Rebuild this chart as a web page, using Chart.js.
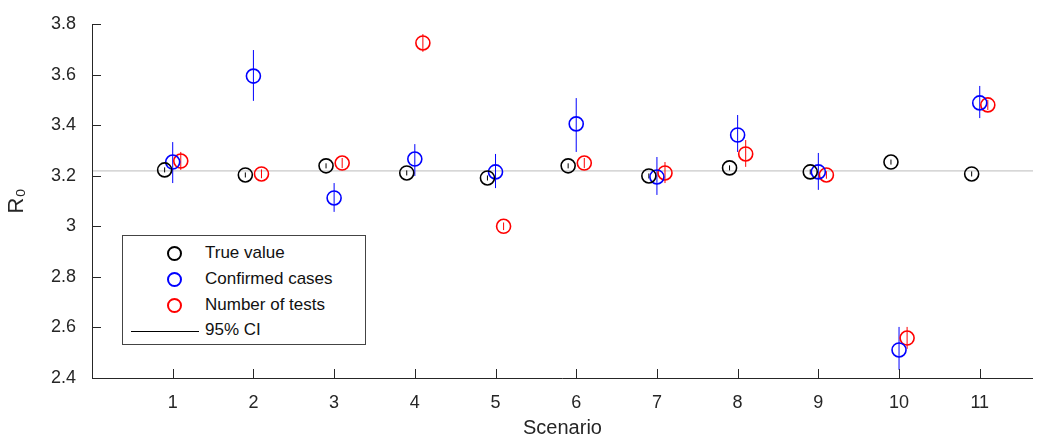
<!DOCTYPE html>
<html>
<head>
<meta charset="utf-8">
<script src="https://cdn.jsdelivr.net/npm/chart.js@4/dist/chart.umd.min.js"></script>
<style>
  body { margin: 0; background: #fff; }
  #wrap { position: relative; width: 1047px; height: 444px; }
  #legend { position: absolute; left: 122px; top: 235px; width: 244px; height: 110px;
    border: 1px solid #444; background: #fff; font: 17px "Liberation Sans", Arial, sans-serif; box-sizing: border-box; color: #111; }
  #legend div { position: absolute; left: 82px; }
  .mk { position: absolute; width: 11px; height: 11px; border-radius: 50%; border: 2px solid; left: 44px; }
</style>
</head>
<body>
<div id="wrap">
  <canvas id="c" width="1047" height="444"></canvas>
  <div id="legend">
    <span class="mk" style="top:10px;border-color:#000"></span><div style="top:7px">True value</div>
    <span class="mk" style="top:36px;border-color:#00f"></span><div style="top:33px">Confirmed cases</div>
    <span class="mk" style="top:62px;border-color:#f00"></span><div style="top:59px">Number of tests</div>
    <span style="position:absolute;left:8px;top:95px;width:68px;border-top:1px solid #000"></span><div style="top:84px">95% CI</div>
  </div>
</div>
<script>
const scenarios = [1, 2, 3, 4, 5, 6, 7, 8, 9, 10, 11];
const trueVal   = [3.223, 3.203, 3.239, 3.211, 3.191, 3.239, 3.199, 3.231, 3.215, 3.254, 3.207];
const trueLo    = [3.213, 3.193, 3.229, 3.201, 3.181, 3.229, 3.189, 3.221, 3.205, 3.244, 3.197];
const trueHi    = [3.233, 3.213, 3.249, 3.221, 3.201, 3.249, 3.209, 3.241, 3.225, 3.264, 3.217];
const confVal   = [3.254, 3.594, 3.112, 3.266, 3.215, 3.405, 3.195, 3.361, 3.215, 2.511, 3.488];
const confLo    = [3.171, 3.496, 3.057, 3.199, 3.151, 3.294, 3.124, 3.294, 3.144, 2.432, 3.428];
const confHi    = [3.333, 3.697, 3.171, 3.325, 3.286, 3.507, 3.274, 3.440, 3.290, 2.602, 3.555];
const testVal   = [3.258, 3.207, 3.250, 3.725, 3.000, 3.250, 3.211, 3.286, 3.203, 2.558, 3.480];
const testLo    = [3.223, 3.190, 3.230, 3.690, 2.985, 3.230, 3.171, 3.235, 3.188, 2.515, 3.460];
const testHi    = [3.294, 3.225, 3.270, 3.760, 3.015, 3.270, 3.254, 3.341, 3.218, 2.602, 3.500];
const refLine = 3.219;
const yTicks = [2.4, 2.6, 2.8, 3, 3.2, 3.4, 3.6, 3.8];

function pts(vals, lo, hi, off) {
  return scenarios.map((s, i) => ({ x: s + off, y: vals[i], lo: lo[i], hi: hi[i] }));
}

const sets = [
  { data: pts(trueVal, trueLo, trueHi, -0.1), color: '#000' },
  { data: pts(confVal, confLo, confHi, 0), color: '#0000ff' },
  { data: pts(testVal, testLo, testHi, 0.1), color: '#ff0000' }
];

const extras = {
  id: 'extras',
  beforeDatasetsDraw(chart) {
    const { ctx, scales: { x, y }, chartArea: a } = chart;
    ctx.save();
    ctx.strokeStyle = '#bbb'; ctx.lineWidth = 1;
    ctx.beginPath();
    ctx.moveTo(a.left, y.getPixelForValue(refLine));
    ctx.lineTo(a.right, y.getPixelForValue(refLine));
    ctx.stroke();
    sets.forEach(s => {
      ctx.strokeStyle = s.color;
      s.data.forEach(p => {
        const px = x.getPixelForValue(p.x);
        ctx.beginPath();
        ctx.moveTo(px, y.getPixelForValue(p.lo));
        ctx.lineTo(px, y.getPixelForValue(p.hi));
        ctx.stroke();
      });
    });
    ctx.restore();
  },
  afterDraw(chart) {
    const { ctx, scales: { x, y }, chartArea: a } = chart;
    ctx.save();
    ctx.strokeStyle = '#262626'; ctx.lineWidth = 1;
    ctx.beginPath();
    ctx.moveTo(a.left + 0.5, a.top); ctx.lineTo(a.left + 0.5, a.bottom + 0.5); ctx.lineTo(a.right, a.bottom + 0.5);
    scenarios.forEach(s => { const px = Math.round(x.getPixelForValue(s)) + 0.5; ctx.moveTo(px, a.bottom); ctx.lineTo(px, a.bottom - 9); });
    yTicks.forEach(t => { const py = Math.round(y.getPixelForValue(t)) + 0.5; ctx.moveTo(a.left, py); ctx.lineTo(a.left + 9, py); });
    ctx.stroke();
    ctx.restore();
  }
};

new Chart(document.getElementById('c'), {
  type: 'scatter',
  data: {
    datasets: sets.map(s => ({
      data: s.data,
      borderColor: s.color,
      backgroundColor: 'rgba(0,0,0,0)',
      pointRadius: 7,
      pointBorderWidth: 1.6,
      pointHoverRadius: 7
    }))
  },
  options: {
    responsive: false,
    animation: false,
    layout: { padding: { top: 24, right: 14, left: 0, bottom: 0 } },
    plugins: { legend: { display: false }, tooltip: { enabled: false } },
    scales: {
      x: {
        min: 0, max: 11.66,
        afterBuildTicks: ax => { ax.ticks = scenarios.map(v => ({ value: v })); },
        afterFit: ax => { ax.height = 66; },
        grid: { display: false },
        border: { display: false },
        ticks: { color: '#262626', font: { family: 'Liberation Sans', size: 18 }, padding: 6 },
        title: { display: true, text: 'Scenario', color: '#262626', font: { family: 'Liberation Sans', size: 20 }, padding: { top: 0 } }
      },
      y: {
        min: 2.4, max: 3.8,
        afterBuildTicks: ax => { ax.ticks = yTicks.map(v => ({ value: v })); },
        afterFit: ax => { ax.width = 92; },
        grid: { display: false },
        border: { display: false },
        ticks: { color: '#262626', font: { family: 'Liberation Sans', size: 18 }, padding: 8,
          callback: v => String(Math.round(v * 10) / 10) },
        title: { display: true, text: 'R₀', color: '#262626', font: { family: 'Liberation Sans', size: 22 } }
      }
    }
  },
  plugins: [extras]
});
</script>
</body>
</html>
